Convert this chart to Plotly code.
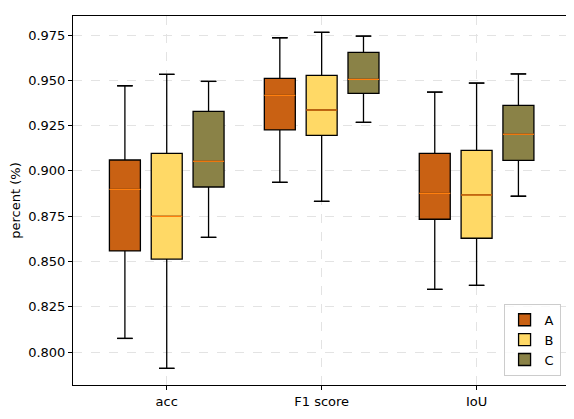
import plotly.graph_objects as go

categories = ["acc", "F1 score", "IoU"]
series = ["A", "B", "C"]
colors = ["#C96113", "#FFD966", "#8A8247"]

# per series: values for acc, F1 score, IoU
q1 = {
    "A": [0.8558, 0.9226, 0.8733],
    "B": [0.8513, 0.9196, 0.8628],
    "C": [0.8911, 0.9428, 0.9058],
}
median = {
    "A": [0.8898, 0.9417, 0.8876],
    "B": [0.8749, 0.9336, 0.8867],
    "C": [0.9053, 0.9505, 0.9202],
}
q3 = {
    "A": [0.9060, 0.9511, 0.9097],
    "B": [0.9097, 0.9527, 0.9113],
    "C": [0.9329, 0.9654, 0.9362],
}
lo = {
    "A": [0.8075, 0.8937, 0.8346],
    "B": [0.7910, 0.8832, 0.8368],
    "C": [0.8633, 0.9268, 0.8860],
}
hi = {
    "A": [0.9470, 0.9735, 0.9435],
    "B": [0.9533, 0.9765, 0.9485],
    "C": [0.9494, 0.9744, 0.9535],
}

offsets = [-0.27, 0.0, 0.27]
box_w = 0.2
cap_w = 0.05

fig = go.Figure()

for s, off, col in zip(series, offsets, colors):
    pos = [i + off for i in range(len(categories))]
    fig.add_trace(go.Box(
        name=s, x=pos,
        q1=q1[s], median=median[s], q3=q3[s],
        lowerfence=lo[s], upperfence=hi[s],
        width=box_w, fillcolor=col, line=dict(color="black", width=1.3),
        boxpoints=False, hoverinfo="skip",
    ))

# whisker caps and orange medians
for s, off in zip(series, offsets):
    cx, cy, mx, my = [], [], [], []
    for i in range(len(categories)):
        p = i + off
        for v in (lo[s][i], hi[s][i]):
            cx += [p - cap_w, p + cap_w, None]
            cy += [v, v, None]
        mx += [p - box_w / 2, p + box_w / 2, None]
        my += [median[s][i], median[s][i], None]
    fig.add_trace(go.Scatter(x=cx, y=cy, mode="lines", line=dict(color="black", width=1.3),
                             showlegend=False, hoverinfo="skip"))
    fig.add_trace(go.Scatter(x=mx, y=my, mode="lines", line=dict(color="#FF7F0E", width=1.3),
                             showlegend=False, hoverinfo="skip"))

axis_style = dict(
    showline=True, linecolor="black", linewidth=1, mirror=True,
    ticks="outside", tickcolor="black", ticklen=4,
    showgrid=True, gridcolor="#E3E3E3", griddash="dash", gridwidth=1,
    zeroline=False, tickfont=dict(size=13, color="black"),
)

# page has an 8px body margin, so size the figure to fill the rest
fig.update_layout(
    width=566, height=411,
    margin=dict(l=65, r=6, t=8, b=34, autoexpand=False),
    paper_bgcolor="white", plot_bgcolor="white",
    font=dict(family="DejaVu Sans", size=13, color="black"),
    boxmode="overlay",
    xaxis=dict(range=[-0.605, 2.59], tickvals=[0, 1, 2], ticktext=categories, **axis_style),
    yaxis=dict(range=[0.7818, 0.9855], tickvals=[0.8, 0.825, 0.85, 0.875, 0.9, 0.925, 0.95, 0.975],
               tickformat=".3f", title=dict(text="percent (%)", font=dict(size=13), standoff=8),
               **axis_style),
    legend=dict(x=0.985, y=0.025, xanchor="right", yanchor="bottom",
                bordercolor="#CCCCCC", borderwidth=1, bgcolor="rgba(255,255,255,0.8)",
                font=dict(size=13), tracegroupgap=2),
)

fig.write_html("out.html")
